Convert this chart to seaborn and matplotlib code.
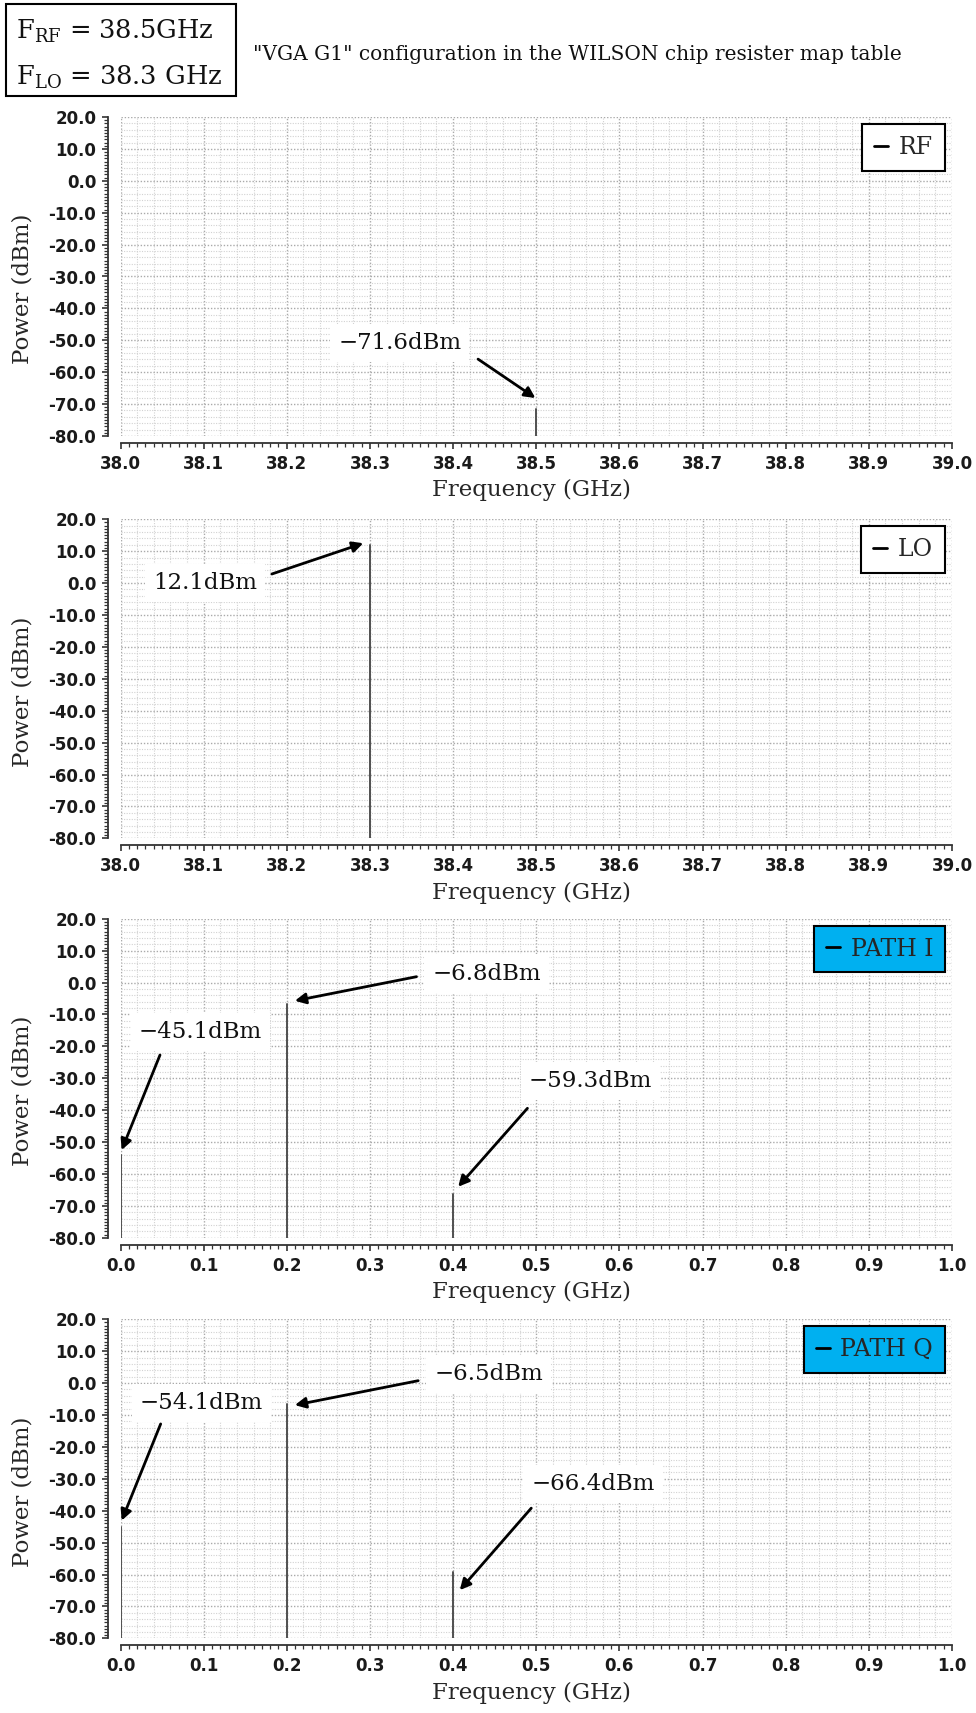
import numpy as np
import pandas as pd
import matplotlib
matplotlib.use("Agg")
import matplotlib.pyplot as plt
import seaborn as sns
from matplotlib.ticker import MultipleLocator, FormatStrFormatter
from matplotlib.lines import Line2D
from matplotlib.patches import Rectangle

sns.set_theme(style="white")
plt.rcParams.update({
    "font.family": ["DejaVu Serif"],
    "axes.unicode_minus": False,
    "mathtext.fontset": "dejavuserif",
})

# ---------------- data ----------------
FLOOR = -80.0
rf_freq = [38.5]
rf_power = [-71.6]
rf_labels = ["\u221271.6dBm"]

lo_freq = [38.3]
lo_power = [12.1]
lo_labels = ["12.1dBm"]

if_freq = [0.0, 0.2, 0.4]
path_i_power = [-54.1, -6.8, -66.4]
path_i_labels = ["\u221245.1dBm", "\u22126.8dBm", "\u221259.3dBm"]
path_q_power = [-45.1, -6.5, -59.3]
path_q_labels = ["\u221254.1dBm", "\u22126.5dBm", "\u221266.4dBm"]

# ---------------- layout ----------------
W, H = 976, 1713
fig = plt.figure(figsize=(W / 100, H / 100), dpi=100)

# annotation layout: (text position, arrow tail, arrow tip) in data coords
panels = [
    dict(freq=rf_freq, power=rf_power, labels=rf_labels, xlim=(38.0, 39.0),
         legend="RF", face="white", top=117.0,
         notes=[((38.336, -50.8), (38.43, -55.9), (38.499, -68.1))]),
    dict(freq=lo_freq, power=lo_power, labels=lo_labels, xlim=(38.0, 39.0),
         legend="LO", face="white", top=519.3,
         notes=[((38.1016, -0.1), (38.182, 2.85), (38.292, 12.5))]),
    dict(freq=if_freq, power=path_i_power, labels=path_i_labels, xlim=(0.0, 1.0),
         legend="PATH I", face="#00B0F0", top=918.8,
         notes=[((0.0962, -15.6), (0.0475, -22.7), (0.0014, -52.5)),
                ((0.4405, 2.85), (0.356, 1.85), (0.2097, -5.7)),
                ((0.565, -30.8), (0.4894, -39.4), (0.4061, -64.0))]),
    dict(freq=if_freq, power=path_q_power, labels=path_q_labels, xlim=(0.0, 1.0),
         legend="PATH Q", face="#00B0F0", top=1319.3,
         notes=[((0.0976, -6.1), (0.0483, -12.8), (0.0014, -43.1)),
                ((0.4427, 2.85), (0.358, 0.75), (0.2097, -6.9)),
                ((0.5683, -31.6), (0.494, -39.2), (0.408, -64.9))]),
]

AX_LEFT, AX_W, AX_H = 120.5, 831.5, 319.0

for p in panels:
    rect = [AX_LEFT / W, 1 - (p["top"] + AX_H) / H, AX_W / W, AX_H / H]

    # background grid axes (finer minor grid than minor ticks)
    bg = fig.add_axes(rect, zorder=0)
    bg.set_xlim(*p["xlim"])
    bg.set_ylim(FLOOR, 20)
    bg.xaxis.set_major_locator(MultipleLocator(0.1))
    bg.xaxis.set_minor_locator(MultipleLocator(0.02))
    bg.yaxis.set_major_locator(MultipleLocator(10))
    bg.yaxis.set_minor_locator(MultipleLocator(2))
    bg.grid(which="major", ls=(0, (1, 1.3)), color="#aaaaaa", lw=1.0)
    bg.grid(which="minor", ls=(0, (1, 1.3)), color="#d2d2d2", lw=0.8)
    bg.tick_params(which="both", length=0, labelbottom=False, labelleft=False)
    for s in bg.spines.values():
        s.set_visible(False)
    bg.set_facecolor("white")

    ax = fig.add_axes(rect, zorder=1)
    ax.patch.set_alpha(0)

    n = len(p["freq"])
    df = pd.DataFrame({
        "freq": np.repeat(p["freq"], 2),
        "power": np.ravel(np.column_stack([np.full(n, FLOOR), p["power"]])),
        "peak": np.repeat(np.arange(n), 2),
    })
    sns.lineplot(data=df, x="freq", y="power", units="peak", estimator=None,
                 sort=False, color="#505050", lw=1.4, ax=ax, legend=False)

    ax.set_xlim(*p["xlim"])
    ax.set_ylim(FLOOR, 20)
    ax.xaxis.set_major_locator(MultipleLocator(0.1))
    ax.xaxis.set_minor_locator(MultipleLocator(0.01))
    ax.yaxis.set_major_locator(MultipleLocator(10))
    ax.yaxis.set_minor_locator(MultipleLocator(1))
    ax.xaxis.set_major_formatter(FormatStrFormatter("%.1f"))
    ax.yaxis.set_major_formatter(FormatStrFormatter("%.1f"))
    ax.grid(False)

    sns.despine(ax=ax, offset={"left": 9, "bottom": 5}, trim=True)
    for s in ("left", "bottom"):
        ax.spines[s].set_color("#333333")
        ax.spines[s].set_linewidth(1.3)
    ax.tick_params(which="major", direction="out", length=4.5, width=1.2,
                   color="#333333", pad=4, labelsize=12, labelcolor="#1a1a1a",
                   left=True, bottom=True)
    ax.tick_params(which="minor", direction="out", length=2.6, width=0.9,
                   color="#333333", left=True, bottom=True)
    for lab in ax.get_xticklabels() + ax.get_yticklabels():
        lab.set_fontfamily("DejaVu Sans")
        lab.set_fontweight("bold")

    ax.set_xlabel("Frequency (GHz)", fontsize=16.5, va="center")
    ax.xaxis.set_label_coords(0.494, -0.170)
    ax.set_ylabel("Power (dBm)", fontsize=16.5, va="center")
    ax.yaxis.set_label_coords(-0.118, 0.46)

    # annotations
    for lab, (tpos, tail, tip) in zip(p["labels"], p["notes"]):
        ax.annotate("", xy=tip, xytext=tail,
                    arrowprops=dict(arrowstyle="-|>", color="black", lw=2.0,
                                    mutation_scale=16, shrinkA=0, shrinkB=0),
                    zorder=5)
        ax.text(tpos[0], tpos[1], lab, ha="center", va="center", fontsize=16.5,
                color="#111111", zorder=6,
                bbox=dict(boxstyle="square,pad=0.35", facecolor="white",
                          edgecolor="none"))

    leg = ax.legend(handles=[Line2D([], [], color="black", lw=2.0)],
                    labels=[p["legend"]], loc="upper right", fontsize=17,
                    frameon=True, fancybox=False, framealpha=1,
                    facecolor=p["face"], edgecolor="black",
                    handlelength=0.6, handletextpad=0.45, borderpad=0.5,
                    borderaxespad=0.3)
    leg.get_frame().set_linewidth(1.5)
    leg.set_zorder(10)

# ---------------- header ----------------
fig.add_artist(Rectangle((6 / W, 1 - 96 / H), 230 / W, 92 / H,
                         transform=fig.transFigure, fill=False,
                         edgecolor="black", lw=1.5))
fig.text(16 / W, 1 - 39 / H, r"$\mathrm{F_{RF}}$ = 38.5GHz", fontsize=18.5,
         va="baseline", ha="left", color="#111111")
fig.text(16 / W, 1 - 85 / H, r"$\mathrm{F_{LO}}$ = 38.3 GHz", fontsize=18.5,
         va="baseline", ha="left", color="#111111")
fig.text(253 / W, 1 - 60 / H,
         "\"VGA G1\" configuration in the WILSON chip resister map table",
         fontsize=14.5, va="baseline", ha="left", color="#111111")

fig.savefig("out.png", dpi=100)
